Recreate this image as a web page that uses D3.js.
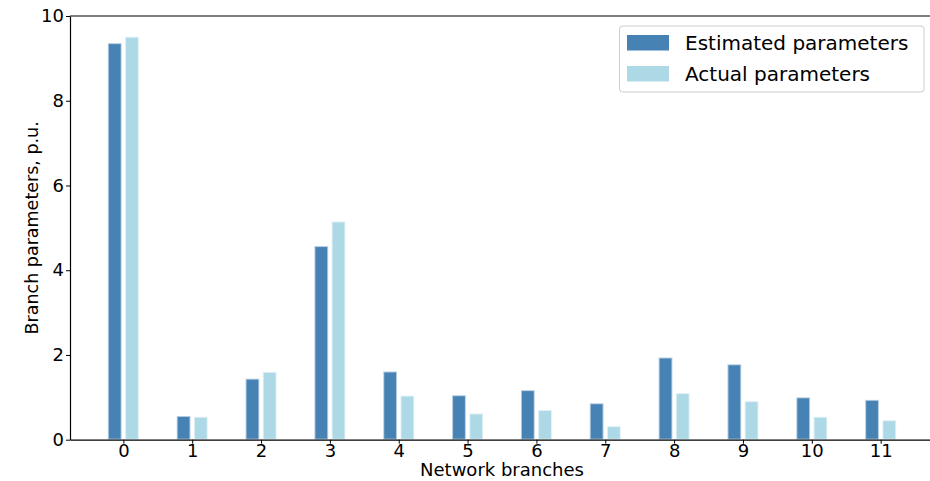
<!DOCTYPE html>
<html>
<head>
<meta charset="utf-8">
<script src="https://cdn.jsdelivr.net/npm/d3@7"></script>
<style>
  body { margin: 0; background: #fff; }
  svg { display: block; font-family: "DejaVu Sans", sans-serif; }
</style>
</head>
<body>
<div id="chart"></div>
<script>
// Chart data
var branches = [0, 1, 2, 3, 4, 5, 6, 7, 8, 9, 10, 11];
var estimated = [9.36, 0.56, 1.44, 4.57, 1.61, 1.05, 1.17, 0.86, 1.94, 1.78, 1.00, 0.94];
var actual = [9.51, 0.54, 1.60, 5.15, 1.04, 0.62, 0.70, 0.32, 1.10, 0.91, 0.54, 0.46];
var yTicks = [0, 2, 4, 6, 8, 10];
var seriesNames = ["Estimated parameters", "Actual parameters"];
var seriesColors = ["#4682B4", "#ADD8E6"];

var W = 930, H = 481;
var margin = { left: 70, right: 934, top: 16, bottom: 439.7 };

var svg = d3.select("#chart").append("svg")
    .attr("width", W)
    .attr("height", H);

// Scales
var x = d3.scaleLinear().domain([-0.775, 11.775]).range([margin.left, margin.right]);
var y = d3.scaleLinear().domain([0, 10]).range([margin.bottom, margin.top]);

var barW = 0.2, offset = 0.125;

// Bars for each series
[estimated, actual].forEach(function(vals, s) {
    svg.append("g")
        .selectAll("rect")
        .data(vals)
        .enter().append("rect")
            .attr("x", function(d, i) { return x(branches[i] + (s === 0 ? -offset : offset) - barW / 2); })
            .attr("y", function(d) { return y(d); })
            .attr("width", x(barW) - x(0))
            .attr("height", function(d) { return y(0) - y(d); })
            .style("fill", seriesColors[s])
            .style("stroke", "#fff")
            .style("stroke-opacity", 0.6)
            .style("stroke-width", 2);
});

// X axis
var xAxis = svg.append("g")
    .attr("transform", "translate(0," + margin.bottom + ")")
    .call(d3.axisBottom(x).tickValues(branches).tickFormat(d3.format("d")).tickSize(4).tickPadding(1).tickSizeOuter(0));

// Y axis
var yAxis = svg.append("g")
    .attr("transform", "translate(" + margin.left + ",0)")
    .call(d3.axisLeft(y).tickValues(yTicks).tickSize(4).tickPadding(2).tickSizeOuter(0));

[xAxis, yAxis].forEach(function(a) {
    a.selectAll("text").style("font-size", "18px").style("fill", "#000").style("font-family", "DejaVu Sans");
    a.selectAll("line").style("stroke", "#000");
    a.select(".domain").style("stroke", "#000").style("stroke-width", 1.2);
});

// Top spine
svg.append("line")
    .attr("x1", margin.left).attr("x2", margin.right)
    .attr("y1", margin.top).attr("y2", margin.top)
    .style("stroke", "#000").style("stroke-width", 1.2);

// Axis titles
svg.append("text")
    .attr("x", (margin.left + margin.right) / 2)
    .attr("y", 476)
    .attr("text-anchor", "middle")
    .style("font-size", "18px")
    .text("Network branches");

svg.append("text")
    .attr("transform", "translate(38," + ((margin.top + margin.bottom) / 2) + ") rotate(-90)")
    .attr("text-anchor", "middle")
    .style("font-size", "17.5px")
    .text("Branch parameters, p.u.");

// Legend
var legend = svg.append("g").attr("class", "legend");

legend.append("rect")
    .attr("x", 619.5).attr("y", 26)
    .attr("width", 304.5).attr("height", 66)
    .attr("rx", 3)
    .style("fill", "#fff").style("fill-opacity", 0.8)
    .style("stroke", "#ccc").style("stroke-width", 1);

seriesNames.forEach(function(name, i) {
    legend.append("rect")
        .attr("x", 627).attr("y", 35 + i * 31)
        .attr("width", 42).attr("height", 15.5)
        .style("fill", seriesColors[i]);
    legend.append("text")
        .attr("x", 685).attr("y", 50 + i * 31)
        .style("font-size", "20px")
        .text(name);
});
</script>
</body>
</html>
